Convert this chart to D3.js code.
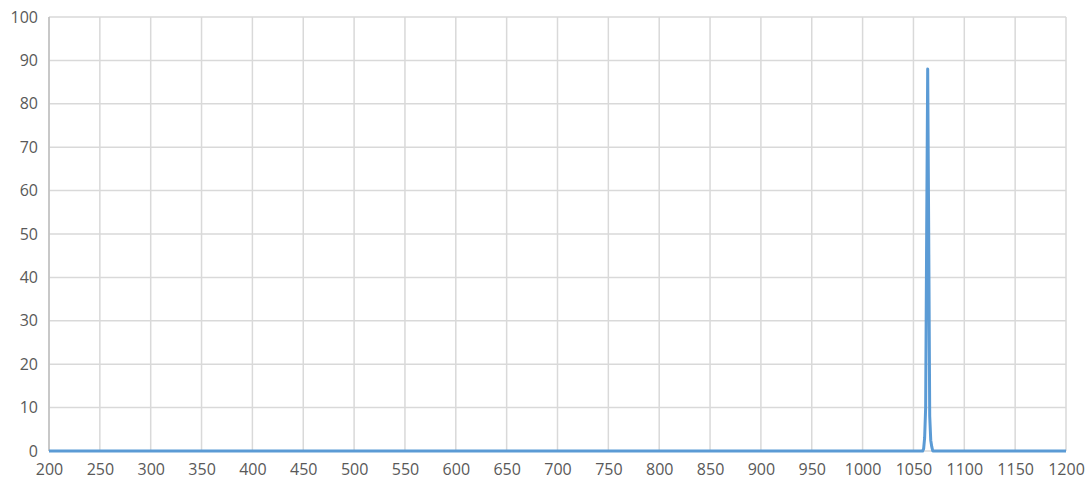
<!DOCTYPE html>
<html lang="en">
<head>
<meta charset="UTF-8">
<title>Spectrum</title>
<script src="https://cdn.jsdelivr.net/npm/d3@7"></script>
<style>
  body { margin: 0; background: #ffffff; }
  svg { display: block; }
  .tick text { font-family: 'Open Sans', Arial, sans-serif; font-size: 16px; fill: #595959; }
</style>
</head>
<body>
<svg id="chart" width="1089" height="489"></svg>
<script>
// wavelength (nm) and transmission (%)
const wavelength = [200, 1059, 1060, 1061, 1062, 1063, 1064, 1065, 1066, 1067, 1068, 1069, 1200];
const transmission = [0, 0, 0.5, 3, 10, 50, 88, 50, 8, 2.5, 1, 0, 0];
const xTicks = d3.range(200, 1201, 50);
const yTicks = d3.range(0, 101, 10);

const svg = d3.select("#chart");
const margin = {left: 49, right: 23, top: 17, bottom: 38};
const width = 1089, height = 489;

const x = d3.scaleLinear().domain([200, 1200]).range([margin.left, width - margin.right]);
const y = d3.scaleLinear().domain([0, 100]).range([height - margin.bottom, margin.top]);

// gridlines
svg.append("g")
    .selectAll("line.vgrid")
    .data(xTicks)
    .join("line")
    .attr("x1", d => x(d)).attr("x2", d => x(d))
    .attr("y1", y(0)).attr("y2", y(100))
    .attr("stroke", "#d9d9d9").attr("stroke-width", 1.5);

svg.append("g")
    .selectAll("line.hgrid")
    .data(yTicks)
    .join("line")
    .attr("x1", x(200)).attr("x2", x(1200))
    .attr("y1", d => y(d)).attr("y2", d => y(d))
    .attr("stroke", "#d9d9d9").attr("stroke-width", 1.5);

// left axis line
svg.append("line")
    .attr("x1", x(200)).attr("x2", x(200))
    .attr("y1", y(0)).attr("y2", y(100))
    .attr("stroke", "#bfbfbf").attr("stroke-width", 1.5);

// axes labels
const xAxis = svg.append("g")
    .attr("transform", `translate(0,${y(0)})`)
    .call(d3.axisBottom(x).tickValues(xTicks).tickSize(0).tickPadding(13).tickFormat(d3.format("d")));
xAxis.select(".domain").remove();

const yAxis = svg.append("g")
    .attr("transform", `translate(${x(200)},0)`)
    .call(d3.axisLeft(y).tickValues(yTicks).tickSize(0).tickPadding(11).tickFormat(d3.format("d")));
yAxis.select(".domain").remove();

// series
const pts = wavelength.map((w, i) => [w, transmission[i]]);
svg.append("path")
    .datum(pts)
    .attr("fill", "none")
    .attr("stroke", "#5b9bd5")
    .attr("stroke-width", 3)
    .attr("stroke-linejoin", "round")
    .attr("d", d3.line().x(d => x(d[0])).y(d => y(d[1])));
</script>
</body>
</html>
